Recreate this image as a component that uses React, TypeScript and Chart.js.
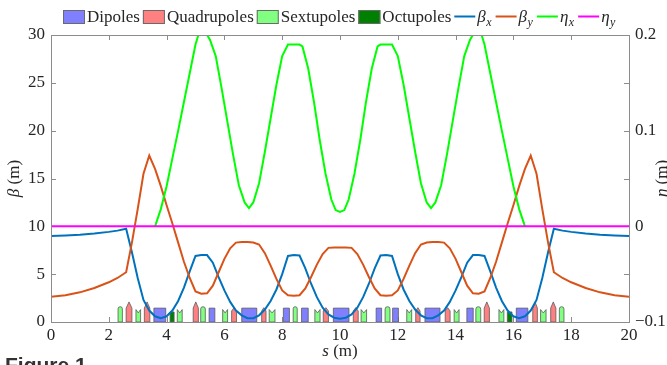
import React, { useEffect, useRef } from 'react';
import { Chart, registerables } from 'chart.js';
Chart.register(...registerables);

// ---- optics data ----
const sBeta = [0, 0.5, 1, 1.5, 2, 2.3, 2.6, 2.8, 3.0, 3.2, 3.4, 3.6, 3.8, 4.0, 4.2, 4.4, 4.6, 4.8, 5.0, 5.2, 5.4, 5.6, 5.8, 6.0, 6.2, 6.4, 6.6, 6.8, 7.0, 7.2, 7.4, 7.6, 7.8, 8.0, 8.2, 8.4, 8.6, 8.8, 9.0, 9.2, 9.4, 9.6, 9.8, 10.0,
  10.2, 10.4, 10.6, 10.8, 11.0, 11.2, 11.4, 11.6, 11.8, 12.0, 12.2, 12.4, 12.6, 12.8, 13.0, 13.2, 13.4, 13.6, 13.8, 14.0, 14.2, 14.4, 14.6, 14.8, 15.0, 15.2, 15.4, 15.6, 15.8, 16.0, 16.2, 16.4, 16.6, 16.8, 17.0, 17.2, 17.4, 17.7, 18, 18.5, 19, 19.5, 20];
const betaX = [9.0, 9.05, 9.12, 9.25, 9.42, 9.55, 9.75, 7.3, 4.6, 2.3, 1.2, 0.6, 0.4, 0.6, 1.2, 2.2, 3.6, 5.3, 6.9, 7.0, 7.0, 6.2, 4.7, 3.3, 2.1, 1.2, 0.7, 0.4, 0.4, 0.7, 1.3, 2.2, 3.4, 5.0, 6.9, 7.0, 6.95, 5.6, 4.0, 2.6, 1.5, 0.8, 0.45, 0.35,
  0.45, 0.8, 1.5, 2.6, 4.0, 5.6, 6.95, 7.0, 6.9, 5.0, 3.4, 2.2, 1.3, 0.7, 0.4, 0.4, 0.7, 1.2, 2.1, 3.3, 4.7, 6.2, 7.0, 7.0, 6.9, 5.3, 3.6, 2.2, 1.2, 0.6, 0.4, 0.6, 1.2, 2.3, 4.6, 7.3, 9.75, 9.55, 9.42, 9.25, 9.12, 9.05, 9.0];
const betaY = [2.65, 2.8, 3.1, 3.55, 4.15, 4.6, 5.2, 8.3, 11.8, 15.5, 17.4, 16.0, 14.2, 12.2, 10.3, 8.3, 6.3, 4.6, 3.2, 2.95, 3.0, 3.8, 5.2, 6.6, 7.7, 8.3, 8.35, 8.35, 8.3, 8.1, 7.2, 5.9, 4.5, 3.3, 2.8, 2.75, 2.8, 3.5, 4.7, 6.0, 7.1, 7.75, 7.8, 7.8,
  7.8, 7.75, 7.1, 6.0, 4.7, 3.5, 2.8, 2.75, 2.8, 3.3, 4.5, 5.9, 7.2, 8.1, 8.3, 8.35, 8.35, 8.3, 7.7, 6.6, 5.2, 3.8, 3.0, 2.95, 3.2, 4.6, 6.3, 8.3, 10.3, 12.2, 14.2, 16.0, 17.4, 15.5, 11.8, 8.3, 5.2, 4.6, 4.15, 3.55, 3.1, 2.8, 2.65];
const sEta = [3.6, 3.8, 4.0, 4.2, 4.4, 4.6, 4.8, 5.0, 5.1, 5.4, 5.5, 5.7, 5.9, 6.1, 6.3, 6.5, 6.7, 6.85, 7.0, 7.2, 7.4, 7.6, 7.8, 8.0, 8.2, 8.3, 8.6, 8.7, 8.9, 9.1, 9.3, 9.5, 9.7, 9.85, 10.0,
  10.15, 10.3, 10.5, 10.7, 10.9, 11.1, 11.3, 11.4, 11.7, 11.8, 12.0, 12.2, 12.4, 12.6, 12.8, 13.0, 13.15, 13.3, 13.5, 13.7, 13.9, 14.1, 14.3, 14.5, 14.6, 14.9, 15.0, 15.2, 15.4, 15.6, 15.8, 16.0, 16.2, 16.4];
const etaX = [0, 0.018, 0.042, 0.071, 0.1, 0.13, 0.16, 0.19, 0.2, 0.2, 0.195, 0.178, 0.145, 0.11, 0.075, 0.043, 0.025, 0.019, 0.025, 0.045, 0.078, 0.113, 0.148, 0.178, 0.19, 0.19, 0.19, 0.188, 0.165, 0.13, 0.09, 0.055, 0.028, 0.017, 0.015,
  0.017, 0.028, 0.055, 0.09, 0.13, 0.165, 0.188, 0.19, 0.19, 0.19, 0.178, 0.148, 0.113, 0.078, 0.045, 0.025, 0.019, 0.025, 0.043, 0.075, 0.11, 0.145, 0.178, 0.195, 0.2, 0.2, 0.19, 0.16, 0.13, 0.1, 0.071, 0.042, 0.018, 0];
const sEtaY = [0, 20];
const etaY = [0, 0];

// ---- lattice elements [start, end] in s (m) ----
const dipoles = [[3.56, 3.97], [5.47, 5.67], [6.6, 7.12], [8.04, 8.25], [8.67, 8.9], [9.77, 10.31], [11.25, 11.44], [11.82, 12.02], [12.94, 13.46], [14.39, 14.61], [16.1, 16.5]];
const quadsF = [[2.6, 2.8], [3.23, 3.42], [4.92, 5.1], [14.99, 15.17], [16.67, 16.83], [17.29, 17.47]];
const quadsD = [[6.25, 6.42], [7.29, 7.44], [9.42, 9.6], [10.46, 10.63], [12.62, 12.77], [13.64, 13.81]];
const sextsF = [[2.32, 2.47], [5.18, 5.34], [8.38, 8.52], [11.56, 11.73], [14.7, 14.87], [17.59, 17.75]];
const sextsD = [[2.94, 3.1], [4.37, 4.54], [5.94, 6.11], [7.55, 7.75], [9.13, 9.31], [10.73, 10.92], [12.31, 12.48], [13.95, 14.12], [15.5, 15.67], [16.94, 17.13]];
const octupoles = [[4.12, 4.26], [15.79, 15.95]];

const magnetNames = ['Dipoles', 'Quadrupoles', 'Sextupoles', 'Octupoles'];
const magnetColors = ['#8080ff', '#ff8080', '#80ff80', '#008000'];
const lineNames = [['β', 'x'], ['β', 'y'], ['η', 'x'], ['η', 'y']];
const lineColors = ['#0072BD', '#D95319', '#00ff00', '#ff00ff'];

const TXT = '#262626';
const AXIS = '#8c8c8c';
const FAM = '"Liberation Serif", "Times New Roman", serif';
const fnt = (sz: number, it = false) => `${it ? 'italic ' : ''}${sz}px ${FAM}`;

const pts = (xs: number[], ys: number[]) => xs.map((x, i) => ({ x, y: ys[i] }));

const decor = {
  id: 'decor',
  beforeDatasetsDraw(chart: any) {
    const { ctx, chartArea: a, scales } = chart;
    const xs = scales.x, ys = scales.y, y2 = scales.y2;
    ctx.save();
    // inward ticks
    ctx.strokeStyle = AXIS; ctx.lineWidth = 1;
    ctx.beginPath();
    xs.ticks.forEach((t: any) => {
      const p = Math.round(xs.getPixelForValue(t.value)) + 0.5;
      ctx.moveTo(p, a.bottom); ctx.lineTo(p, a.bottom - 5);
      ctx.moveTo(p, a.top); ctx.lineTo(p, a.top + 5);
    });
    ys.ticks.forEach((t: any) => {
      const p = Math.round(ys.getPixelForValue(t.value)) + 0.5;
      ctx.moveTo(a.left, p); ctx.lineTo(a.left + 5, p);
    });
    y2.ticks.forEach((t: any) => {
      const p = Math.round(y2.getPixelForValue(t.value)) + 0.5;
      ctx.moveTo(a.right, p); ctx.lineTo(a.right - 5, p);
    });
    ctx.stroke();

    // magnets
    const px = (v: number) => xs.getPixelForValue(v);
    const py = (v: number) => ys.getPixelForValue(v);
    const base = py(0);
    ctx.lineWidth = 0.8; ctx.strokeStyle = '#5a5a5a';
    const fillStroke = (c: string) => { ctx.fillStyle = c; ctx.fill(); ctx.stroke(); };
    dipoles.forEach(([s0, s1]) => {
      ctx.beginPath(); ctx.rect(px(s0), py(1.45), px(s1) - px(s0), base - py(1.45)); fillStroke(magnetColors[0]);
    });
    const quad = (s0: number, s1: number, sh: number, tip: number) => {
      const x0 = px(s0), x1 = px(s1);
      ctx.beginPath(); ctx.moveTo(x0, base); ctx.lineTo(x0, py(sh)); ctx.lineTo((x0 + x1) / 2, py(tip)); ctx.lineTo(x1, py(sh)); ctx.lineTo(x1, base); ctx.closePath(); fillStroke(magnetColors[1]);
    };
    quadsF.forEach(([s0, s1]) => quad(s0, s1, 1.45, 2.1));
    quadsD.forEach(([s0, s1]) => quad(s0, s1, 1.15, 1.5));
    sextsF.forEach(([s0, s1]) => {
      const x0 = px(s0), x1 = px(s1); const r = (x1 - x0) / 2; const top = py(1.6);
      ctx.beginPath(); ctx.moveTo(x0, base); ctx.lineTo(x0, top + r); ctx.arc(x0 + r, top + r, r, Math.PI, 0); ctx.lineTo(x1, base); ctx.closePath(); fillStroke(magnetColors[2]);
    });
    sextsD.forEach(([s0, s1]) => {
      const x0 = px(s0), x1 = px(s1);
      ctx.beginPath(); ctx.moveTo(x0, base); ctx.lineTo(x0, py(1.3)); ctx.lineTo((x0 + x1) / 2, py(0.95)); ctx.lineTo(x1, py(1.3)); ctx.lineTo(x1, base); ctx.closePath(); fillStroke(magnetColors[2]);
    });
    octupoles.forEach(([s0, s1]) => {
      ctx.beginPath(); ctx.rect(px(s0), py(1.05), px(s1) - px(s0), base - py(1.05)); fillStroke(magnetColors[3]);
    });
    ctx.restore();
  },
  afterDatasetsDraw(chart: any) {
    const { ctx, chartArea: a } = chart;
    ctx.save();
    ctx.strokeStyle = AXIS; ctx.lineWidth = 1;
    ctx.strokeRect(Math.round(a.left) + 0.5, Math.round(a.top) + 0.5, Math.round(a.right - a.left), Math.round(a.bottom - a.top));
    ctx.restore();
  },
  afterDraw(chart: any) {
    const { ctx, chartArea: a } = chart;
    ctx.save();
    ctx.textBaseline = 'alphabetic'; ctx.textAlign = 'left';
    // legend
    let x = 63; const base = 22; const mid = 16.5;
    magnetNames.forEach((n, i) => {
      ctx.fillStyle = magnetColors[i]; ctx.fillRect(x, 10, 22, 14);
      ctx.strokeStyle = '#6a6a6a'; ctx.lineWidth = 1; ctx.strokeRect(x + 0.5, 10.5, 21, 13);
      x += 24;
      ctx.fillStyle = TXT; ctx.font = fnt(17); ctx.fillText(n, x, base);
      x += ctx.measureText(n).width + 3;
    });
    lineNames.forEach(([g, sub], i) => {
      ctx.strokeStyle = lineColors[i]; ctx.lineWidth = 2;
      ctx.beginPath(); ctx.moveTo(x, mid); ctx.lineTo(x + 21, mid); ctx.stroke();
      x += 23;
      ctx.fillStyle = TXT; ctx.font = fnt(17, true); ctx.fillText(g, x, base);
      x += ctx.measureText(g).width + 0.5;
      ctx.font = fnt(12, true); ctx.fillText(sub, x, base + 4);
      x += ctx.measureText(sub).width + 4;
    });
    // axis titles
    const title = (it: string, rest: string, cx: number, cy: number, rot: number) => {
      ctx.save();
      ctx.translate(cx, cy); ctx.rotate(rot);
      ctx.font = fnt(17, true); const w1 = ctx.measureText(it).width;
      ctx.font = fnt(17); const w2 = ctx.measureText(rest).width;
      const x0 = -(w1 + w2) / 2;
      ctx.textBaseline = 'middle'; ctx.fillStyle = TXT;
      ctx.font = fnt(17, true); ctx.fillText(it, x0, 0);
      ctx.font = fnt(17); ctx.fillText(rest, x0 + w1, 0);
      ctx.restore();
    };
    const cy = (a.top + a.bottom) / 2;
    title('β', ' (m)', 15, cy, -Math.PI / 2);
    title('η', ' (m)', 663, cy, -Math.PI / 2);
    title('s', ' (m)', (a.left + a.right) / 2, 352, 0);
    ctx.restore();
  },
};

export default function App() {
  const ref = useRef<HTMLCanvasElement>(null);
  useEffect(() => {
    const tickFont = { family: FAM, size: 17 };
    const chart = new Chart(ref.current as HTMLCanvasElement, {
      type: 'line',
      data: {
        datasets: [
          { label: 'ηy', data: pts(sEtaY, etaY), borderColor: lineColors[3], borderWidth: 2, pointRadius: 0, yAxisID: 'y2', tension: 0 },
          { label: 'ηx', data: pts(sEta, etaX), borderColor: lineColors[2], borderWidth: 2, pointRadius: 0, yAxisID: 'y2', tension: 0 },
          { label: 'βy', data: pts(sBeta, betaY), borderColor: lineColors[1], borderWidth: 2, pointRadius: 0, yAxisID: 'y', tension: 0 },
          { label: 'βx', data: pts(sBeta, betaX), borderColor: lineColors[0], borderWidth: 2, pointRadius: 0, yAxisID: 'y', tension: 0 },
        ],
      },
      options: {
        responsive: false,
        animation: false,
        events: [],
        layout: { padding: { left: 0, right: 0, top: 35, bottom: 0 } },
        plugins: { legend: { display: false }, tooltip: { enabled: false } },
        scales: {
          x: {
            type: 'linear', min: 0, max: 20,
            ticks: { stepSize: 2, font: tickFont, color: TXT, padding: 3, maxRotation: 0, autoSkip: false },
            grid: { display: false, drawTicks: false }, border: { display: false },
            afterFit: (s: any) => { s.height = 43; },
          },
          y: {
            position: 'left', min: 0, max: 30,
            ticks: { stepSize: 5, font: tickFont, color: TXT, padding: 6 },
            grid: { display: false, drawTicks: false }, border: { display: false },
            afterFit: (s: any) => { s.width = 51; },
          },
          y2: {
            position: 'right', min: -0.1, max: 0.2,
            ticks: {
              stepSize: 0.05, font: tickFont, color: TXT, padding: 6, autoSkip: false,
              callback: (v: any) => {
                const r = Math.round(Number(v) * 100);
                if (r % 10 !== 0) return '';
                if (r === 0) return '0';
                return (r < 0 ? '−' : '') + (Math.abs(r) / 100).toFixed(1);
              },
            },
            grid: { display: false, drawTicks: false }, border: { display: false },
            afterFit: (s: any) => { s.width = 38; },
          },
        },
      } as any,
      plugins: [decor],
    });
    return () => chart.destroy();
  }, []);
  return (
    <div style={{ position: 'absolute', left: 0, top: 0, width: 667, height: 365, overflow: 'hidden', background: '#fff' }}>
      <canvas ref={ref} width={667} height={365} style={{ display: 'block' }} />
      <div style={{ position: 'absolute', left: 5, top: 353, font: 'bold 21px "Liberation Sans", Arial, sans-serif', lineHeight: '24px', color: '#333', whiteSpace: 'nowrap' }}>Figure 1</div>
    </div>
  );
}
